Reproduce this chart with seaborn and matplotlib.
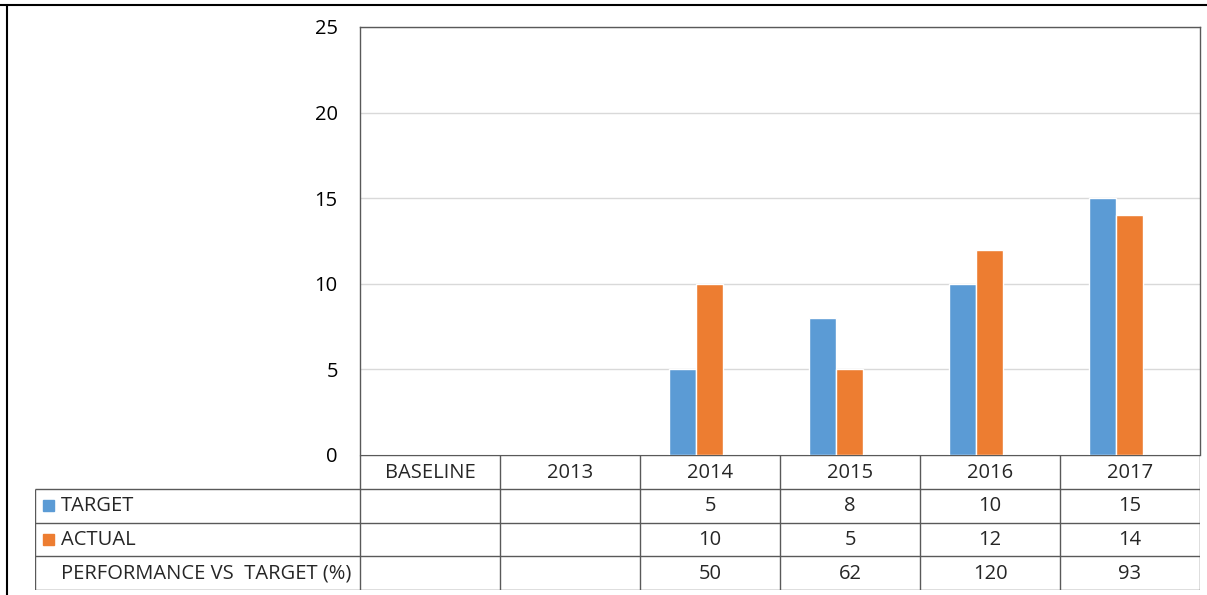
import pandas as pd
import numpy as np
import matplotlib
matplotlib.use("Agg")
import matplotlib.pyplot as plt
from matplotlib.lines import Line2D
from matplotlib.patches import Rectangle
import seaborn as sns

# Données
years = ["BASELINE", "2013", "2014", "2015", "2016", "2017"]
target = [np.nan, np.nan, 5, 8, 10, 15]
actual = [np.nan, np.nan, 10, 5, 12, 14]
performance = ["", "", "50", "62", "120", "93"]
series_names = ["TARGET", "ACTUAL"]
colors = ["#5B9BD5", "#ED7D31"]

df = pd.DataFrame({
    "year": years * 2,
    "value": target + actual,
    "series": [series_names[0]] * len(years) + [series_names[1]] * len(years),
})

sns.set_style("white")
plt.rcParams["font.family"] = ["Open Sans", "DejaVu Sans"]
FS = 14.5

W, H = 1207, 595
fig = plt.figure(figsize=(W / 100, H / 100), dpi=100)

# zone du graphique (pixels: x 360-1200, y 27-455)
ax = fig.add_axes([360 / W, (H - 455) / H, 840 / W, 428 / H])
sns.barplot(data=df, x="year", y="value", hue="series", order=years,
            hue_order=series_names, palette=colors, width=0.39,
            saturation=1, ax=ax, legend=False)
ax.set_ylim(0, 25)
# les barres sont un peu décalées à gauche par rapport aux colonnes du tableau
ax.set_xlim(-0.4, len(years) - 0.4)
ax.set_yticks(range(0, 26, 5))
ax.yaxis.grid(True, color="#D9D9D9", lw=1)
ax.set_axisbelow(True)
ax.set_xticks([])
ax.set_xlabel("")
ax.set_ylabel("")
ax.tick_params(axis="y", length=0, pad=16, labelsize=FS, labelcolor="black")
for side in ["top", "left", "right"]:
    ax.spines[side].set_color("#595959")
    ax.spines[side].set_linewidth(1)
ax.spines["bottom"].set_visible(False)

# tableau de données sous le graphique (pixels: x 35-1200, y 455-590)
TW = 1165
ax_tab = fig.add_axes([35 / W, (H - 590) / H, TW / W, 135 / H])
x_left = -0.5 - 325 / 140
ax_tab.set_xlim(x_left, len(years) - 0.5)
ax_tab.set_ylim(4, 0)
ax_tab.axis("off")

line_kw = dict(color="#595959", lw=1)
ax_tab.hlines(0, -0.5, len(years) - 0.5, **line_kw)
ax_tab.hlines([1, 2, 3, 4], x_left, len(years) - 0.5, **line_kw)
ax_tab.vlines(np.arange(len(years) + 1) - 0.5, 0, 4, **line_kw)
ax_tab.vlines(x_left, 1, 4, **line_kw)

for i, y in enumerate(years):
    ax_tab.text(i, 0.52, y, ha="center", va="center", fontsize=FS)

rows = [
    ("TARGET", ["" if np.isnan(v) else f"{v:g}" for v in target], colors[0]),
    ("ACTUAL", ["" if np.isnan(v) else f"{v:g}" for v in actual], colors[1]),
    ("PERFORMANCE VS  TARGET (%)", performance, None),
]
ytr = ax_tab.get_yaxis_transform()
for r, (label, vals, col) in enumerate(rows, start=1):
    ax_tab.text(26 / TW, r + 0.52, label, ha="left", va="center",
                fontsize=FS, transform=ytr)
    if col is not None:
        ax_tab.add_patch(Rectangle((8 / TW, r + 0.33), 11 / TW, 0.33,
                                   color=col, transform=ytr, clip_on=False))
    for i, v in enumerate(vals):
        ax_tab.text(i, r + 0.52, v, ha="center", va="center", fontsize=FS)

# cadre extérieur
fig.add_artist(Line2D([0, 1], [1 - 5 / H] * 2, transform=fig.transFigure,
                      color="black", lw=1.5))
fig.add_artist(Line2D([7 / W] * 2, [0, 1 - 5 / H], transform=fig.transFigure,
                      color="black", lw=1.5))

fig.savefig("out.png", dpi=100)
